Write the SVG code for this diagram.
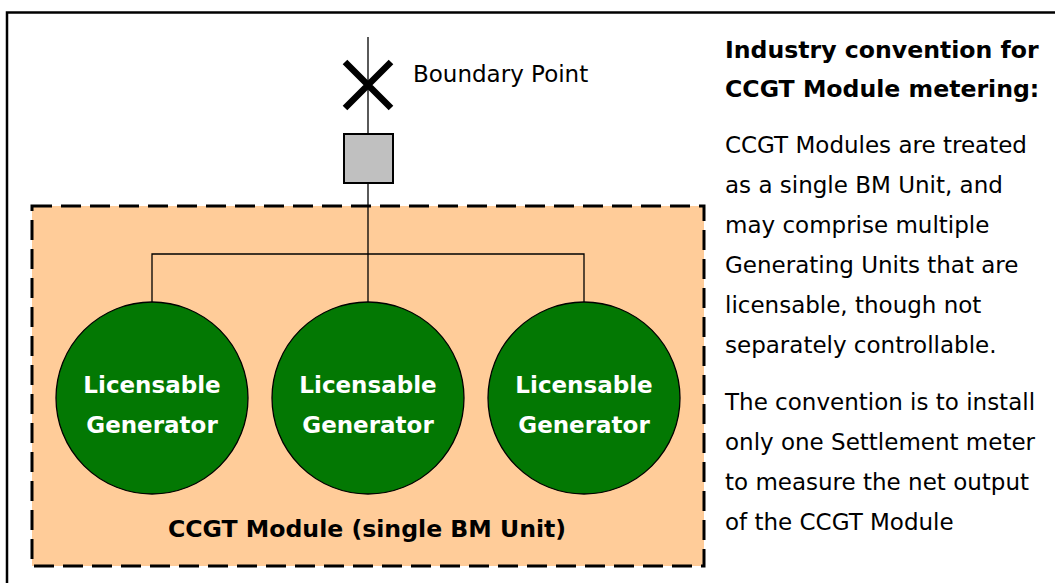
<svg xmlns="http://www.w3.org/2000/svg" width="1055" height="583" viewBox="0 0 1055 583">
<style>
.gen{fill:#037803;stroke:#000;stroke-width:1.3}
.gt{font-family:"DejaVu Sans",sans-serif;font-weight:bold;font-size:23px;fill:#fff;text-anchor:middle}
.wire{fill:none;stroke:#000;stroke-width:1.3}
.body{font-family:"DejaVu Sans",sans-serif;font-size:23px;fill:#000}
.head{font-family:"DejaVu Sans",sans-serif;font-weight:bold;font-size:23.6px;fill:#000}
</style>
<rect x="0" y="0" width="1055" height="583" fill="#fff"/>
<rect id="frame" x="7" y="12.5" width="1100" height="620" fill="none" stroke="#000" stroke-width="2.5"/>
<g id="module">
<rect x="32" y="206" width="672" height="360" fill="#FFCC99" stroke="#000" stroke-width="3" stroke-dasharray="20 9"/>
<text x="367" y="537" text-anchor="middle" style="font-family:'DejaVu Sans',sans-serif;font-weight:bold;font-size:23.6px;fill:#000">CCGT Module (single BM Unit)</text>
</g>
<g id="connectors">
<line class="wire" x1="368" y1="37" x2="368" y2="134"/>
<line class="wire" x1="368" y1="183" x2="368" y2="302"/>
<polyline class="wire" points="152,302 152,254 584,254 584,302"/>
</g>
<g id="boundary">
<path d="M345,62 L391,108 M391,62 L345,108" stroke="#000" stroke-width="6.5" fill="none"/>
<text x="413" y="82" class="body">Boundary Point</text>
</g>
<g id="meter">
<rect x="344" y="134" width="49" height="49" fill="#C0C0C0" stroke="#000" stroke-width="2"/>
</g>
<g id="gen1">
<circle class="gen" cx="152" cy="398" r="96"/>
<text class="gt" x="152" y="393">Licensable</text>
<text class="gt" x="152" y="433">Generator</text>
</g>
<g id="gen2">
<circle class="gen" cx="368" cy="398" r="96"/>
<text class="gt" x="368" y="393">Licensable</text>
<text class="gt" x="368" y="433">Generator</text>
</g>
<g id="gen3">
<circle class="gen" cx="584" cy="398" r="96"/>
<text class="gt" x="584" y="393">Licensable</text>
<text class="gt" x="584" y="433">Generator</text>
</g>
<g id="notes">
<text class="head" x="725" y="58">Industry convention for</text>
<text class="head" x="725" y="97">CCGT Module metering:</text>
<text class="body" x="725" y="153">CCGT Modules are treated</text>
<text class="body" x="725" y="193">as a single BM Unit, and</text>
<text class="body" x="725" y="233">may comprise multiple</text>
<text class="body" x="725" y="273">Generating Units that are</text>
<text class="body" x="725" y="313">licensable, though not</text>
<text class="body" x="725" y="353">separately controllable.</text>
<text class="body" x="725" y="410">The convention is to install</text>
<text class="body" x="725" y="450">only one Settlement meter</text>
<text class="body" x="725" y="490">to measure the net output</text>
<text class="body" x="725" y="530">of the CCGT Module</text>
</g>
</svg>
